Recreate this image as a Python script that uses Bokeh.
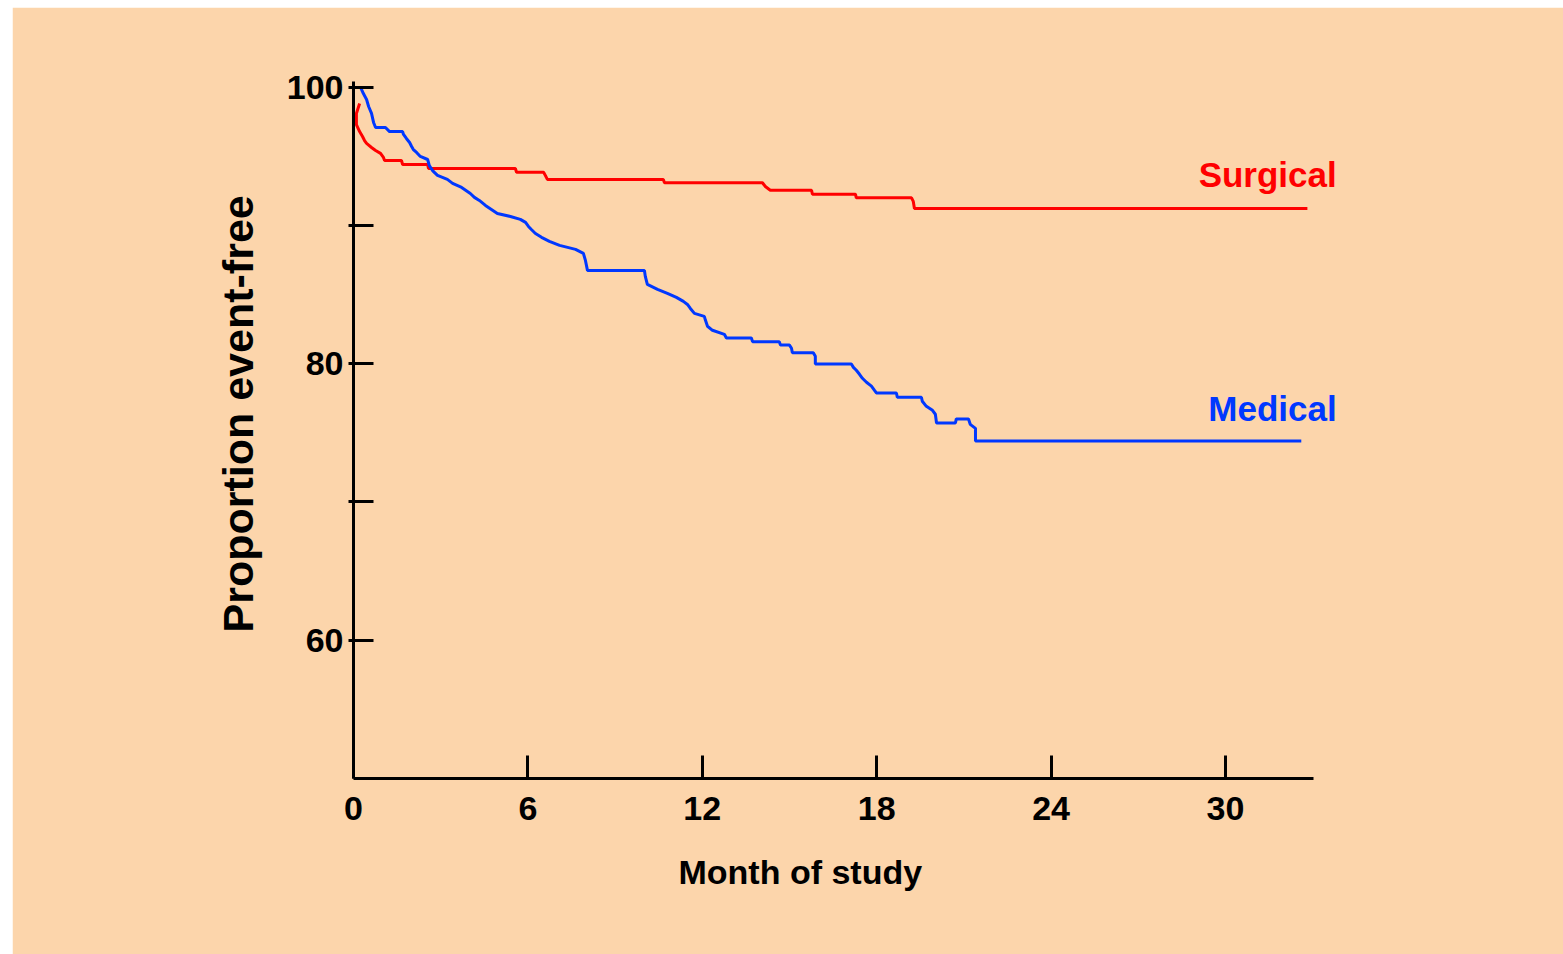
import math
from bokeh.plotting import figure
from bokeh.models import Range1d, FixedTicker, Label, Title
from bokeh.embed import file_html
from bokeh.resources import INLINE

# ---- data ----
surgical_month = [0.21, 0.10, 0.10, 0.21, 0.31, 0.38, 0.45, 0.62, 0.76, 0.93, 1.03, 1.07, 1.65, 1.69,
                  2.55, 2.58, 5.57, 5.61, 6.54, 6.60, 6.67, 10.66, 10.70, 14.07, 14.17, 14.34, 15.76,
                  15.79, 17.27, 17.30, 19.20, 19.26, 19.30, 32.82]
surgical_pct = [98.81, 98.09, 97.29, 96.78, 96.42, 96.13, 95.92, 95.63, 95.41, 95.20, 94.91, 94.69, 94.69,
                94.40, 94.40, 94.11, 94.11, 93.84, 93.84, 93.61, 93.32, 93.32, 93.08, 93.08, 92.81, 92.54,
                92.54, 92.25, 92.25, 91.99, 91.99, 91.73, 91.22, 91.22]

medical_month = [0.24, 0.34, 0.45, 0.52, 0.62, 0.69, 0.76, 1.10, 1.24, 1.69, 1.72, 1.82, 1.93, 2.00, 2.06,
                 2.17, 2.30, 2.55, 2.61, 2.72, 2.89, 3.23, 3.41, 3.72, 4.02, 4.16, 4.33, 4.54, 4.95, 5.40,
                 5.74, 5.92, 6.02, 6.12, 6.26, 6.47, 6.74, 7.09, 7.64, 7.91, 7.98, 8.05, 10.01, 10.04, 10.11,
                 10.46, 10.80, 11.11, 11.35, 11.49, 11.59, 11.73, 12.07, 12.11, 12.18, 12.35, 12.76, 12.83,
                 13.69, 13.73, 14.65, 14.69, 15.00, 15.07, 15.10, 15.82, 15.89, 15.89, 17.13, 17.20, 17.30,
                 17.41, 17.51, 17.65, 17.82, 17.92, 17.99, 18.68, 18.71, 19.54, 19.57, 19.71, 19.92, 20.02,
                 20.06, 20.71, 20.74, 21.16, 21.22, 21.40, 21.40, 32.61]
medical_pct = [100.0, 99.53, 99.10, 98.59, 98.09, 97.44, 97.07, 97.07, 96.78, 96.78, 96.57, 96.28, 95.99,
               95.70, 95.48, 95.27, 94.98, 94.76, 94.32, 93.96, 93.61, 93.32, 93.03, 92.74, 92.30, 92.02,
               91.80, 91.44, 90.86, 90.64, 90.43, 90.21, 89.92, 89.70, 89.41, 89.13, 88.84, 88.55, 88.26,
               87.97, 87.46, 86.74, 86.74, 86.31, 85.73, 85.37, 85.08, 84.79, 84.50, 84.28, 83.99, 83.63,
               83.42, 83.13, 82.70, 82.41, 82.12, 81.85, 81.85, 81.59, 81.59, 81.34, 81.34, 81.11, 80.79,
               80.79, 80.53, 79.97, 79.97, 79.73, 79.52, 79.23, 78.94, 78.65, 78.37, 78.08, 77.88, 77.88,
               77.57, 77.57, 77.28, 76.91, 76.62, 76.34, 75.71, 75.71, 76.00, 76.00, 75.61, 75.32, 74.41,
               74.41]

x_ticks = [0, 6, 12, 18, 24, 30]
y_ticks = [60, 70, 80, 90, 100]
y_tick_labels = {60: "60", 70: "", 80: "80", 90: "", 100: "100"}

BG = "#FCD5AB"
RED = "#FF0000"
BLUE = "#0038FF"
FONT = "Liberation Sans"

p = figure(width=1551, height=947, output_backend="svg", toolbar_location=None,
           x_range=Range1d(0, 34.2), y_range=Range1d(50, 100.4),
           min_border_left=341, min_border_right=216, min_border_top=74, min_border_bottom=176)
p.margin = (7, 0, 0, 12)
p.background_fill_color = BG
p.border_fill_color = BG
p.outline_line_color = BG
p.outline_line_width = 2
p.grid.visible = False

p.line(surgical_month, surgical_pct, line_color=RED, line_width=3)
p.line(medical_month, medical_pct, line_color=BLUE, line_width=3)

for ax in (p.xaxis[0], p.yaxis[0]):
    ax.axis_line_color = "black"
    ax.axis_line_width = 3
    ax.major_tick_line_color = "black"
    ax.major_tick_line_width = 3
    ax.minor_tick_line_color = None
    ax.major_label_text_font = FONT
    ax.major_label_text_font_style = "bold"
    ax.major_label_text_font_size = "34px"
    ax.major_label_text_color = "black"

p.xaxis.ticker = FixedTicker(ticks=x_ticks)
p.xaxis.bounds = (0, 33.03)
p.xaxis.major_tick_in = 23
p.xaxis.major_tick_out = 0
p.xaxis.major_label_standoff = 18

p.yaxis.ticker = FixedTicker(ticks=y_ticks)
p.yaxis.major_label_overrides = y_tick_labels
p.yaxis.major_tick_in = 20
p.yaxis.major_tick_out = 5
p.yaxis.major_label_standoff = 5

# axis titles as side-panel titles (not clipped), positioned like the reference
p.add_layout(Title(text="Month of study", align="left", offset=325, standoff=57,
                   text_font=FONT, text_font_style="bold", text_font_size="34px",
                   text_color="black"), "below")
p.add_layout(Title(text="Proportion event-free", align="left", offset=146, standoff=43,
                   text_font=FONT, text_font_style="bold", text_font_size="43px",
                   text_color="black"), "left")

def lab(**kw):
    base = dict(text_font=FONT, text_font_style="bold", text_font_size="35px", text_color="black")
    base.update(kw)
    p.add_layout(Label(**base))

lab(x=33.83, y=93.67, text="Surgical", text_align="right", text_baseline="alphabetic", text_color=RED)
lab(x=33.83, y=76.75, text="Medical", text_align="right", text_baseline="alphabetic", text_color=BLUE)

open("out.html", "w").write(file_html(p, INLINE))
